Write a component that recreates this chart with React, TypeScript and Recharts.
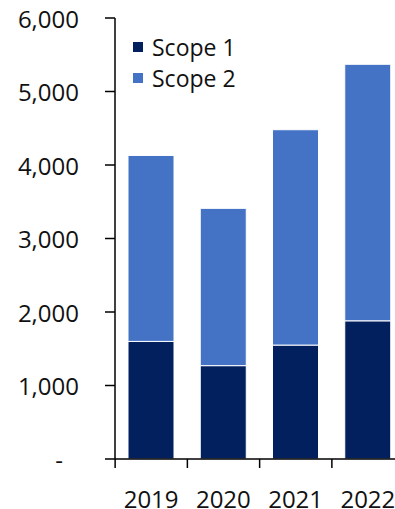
import { BarChart, Bar, XAxis, YAxis } from 'recharts'

const years = ['2019', '2020', '2021', '2022']
const scope1 = [1600, 1270, 1550, 1880]
const scope2 = [2530, 2140, 2930, 3490]
const yTicks = [0, 1000, 2000, 3000, 4000, 5000, 6000]

const data = years.map((year, i) => ({ year, scope1: scope1[i], scope2: scope2[i] }))

const FONT = '"Open Sans", "Noto Sans", sans-serif'
const DARK = '#03205E'
const LIGHT = '#4472C4'

function YTick({ x, y, payload }: any) {
  const v = payload.value as number
  return (
    <text
      x={v === 0 ? x - 20 : x}
      y={y}
      textAnchor={v === 0 ? 'middle' : 'end'}
      dominantBaseline="central"
      fontSize={24}
      fontFamily={FONT}
      fill="#111"
    >
      {v === 0 ? '-' : v.toLocaleString('en-US')}
    </text>
  )
}

function XTick({ x, y, payload }: any) {
  return (
    <g>
      <line x1={x - 36} x2={x - 36} y1={y} y2={y + 9} stroke="#000" strokeWidth={1.5} />
      <text
        x={x}
        y={y + 39}
        textAnchor="middle"
        dominantBaseline="central"
        fontSize={24}
        fontFamily={FONT}
        fill="#111"
      >
        {payload.value}
      </text>
    </g>
  )
}

function LegendBox() {
  const items = [
    { name: 'Scope 1', color: DARK },
    { name: 'Scope 2', color: LIGHT },
  ]
  return (
    <div style={{ position: 'absolute', left: 133, top: 31, fontFamily: FONT, fontSize: 23, color: '#111' }}>
      {items.map((it) => (
        <div key={it.name} style={{ display: 'flex', alignItems: 'center', height: 31 }}>
          <span
            style={{ width: 10, height: 10, background: it.color, display: 'inline-block', marginRight: 9 }}
          />
          {it.name}
        </div>
      ))}
    </div>
  )
}

export default function App() {
  return (
    <div style={{ position: 'absolute', left: 0, top: 0, width: 395, height: 509, overflow: 'hidden', background: '#fff' }}>
      <BarChart
        width={404}
        height={509}
        data={data}
        margin={{ top: 18, right: 0, bottom: 0, left: 0 }}
        barSize={46}
      >
        <YAxis
          domain={[0, 6000]}
          ticks={yTicks}
          interval={0}
          width={115}
          tickSize={10}
          tickMargin={26}
          tick={<YTick />}
          axisLine={{ stroke: '#000', strokeWidth: 1.5 }}
          tickLine={{ stroke: '#000', strokeWidth: 1.5 }}
        />
        <XAxis
          dataKey="year"
          height={50}
          tickSize={0}
          tickMargin={0}
          tick={<XTick />}
          interval={0}
          axisLine={{ stroke: '#000', strokeWidth: 1.5 }}
          tickLine={false}
        />
        <Bar dataKey="scope1" stackId="a" fill={DARK} stroke="#fff" strokeWidth={1} isAnimationActive={false} />
        <Bar dataKey="scope2" stackId="a" fill={LIGHT} stroke="#fff" strokeWidth={1} isAnimationActive={false} />
      </BarChart>
      <LegendBox />
    </div>
  )
}
